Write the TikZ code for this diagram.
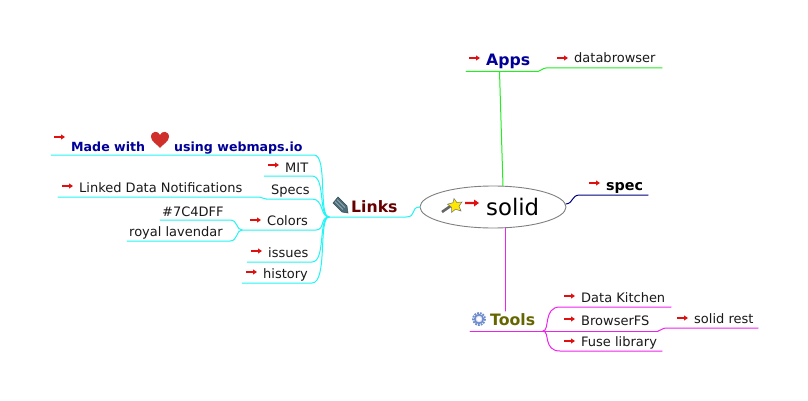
\documentclass[tikz,border=0pt]{standalone}
\usepackage{fontspec}
\setmainfont{DejaVu Sans}
\usetikzlibrary{shapes.geometric}
\definecolor{cyanline}{HTML}{22F5F5}
\definecolor{greenline}{HTML}{22EE22}
\definecolor{magline}{HTML}{EE22EE}
\definecolor{navyline}{HTML}{000080}
\definecolor{navytext}{HTML}{000099}
\definecolor{linkstext}{HTML}{660000}
\definecolor{toolstext}{HTML}{666600}
\definecolor{arrowred}{HTML}{E01010}
\definecolor{heartred}{HTML}{D0302C}
\definecolor{pencilc}{HTML}{4A6C78}
\definecolor{gearc}{HTML}{6C8CCC}
\tikzset{
  leaf/.style={anchor=base west,inner sep=0pt,font=\fontsize{13}{15}\selectfont,text=black!90},
  branch/.style={anchor=base west,inner sep=0pt,font=\fontsize{15.7}{18}\selectfont\bfseries},
  madetext/.style={anchor=base west,inner sep=0pt,font=\fontsize{12.6}{15}\selectfont\bfseries,text=navytext},
  root/.style={ellipse,draw=black!50,line width=0.9pt,minimum width=146pt,minimum height=42pt,inner sep=0pt},
  wire/.style={line width=1pt,line cap=round},
  redarr/.pic={\fill[arrowred] (0,-0.8) -- (7,-0.8) -- (7,-2.6) -- (11,0) -- (7,2.6) -- (7,0.8) -- (0,0.8) -- cycle;},
  bigarr/.pic={\fill[arrowred] (0,-1.1) -- (9,-1.1) -- (9,-3.5) -- (14,0) -- (9,3.5) -- (9,1.1) -- (0,1.1) -- cycle;},
  heart/.pic={\fill[heartred] (0,8) .. controls (-2.5,4.5) and (-9,1.5) .. (-9,-3) .. controls (-9,-9.5) and (-1.5,-9.5) .. (0,-5) .. controls (1.5,-9.5) and (9,-9.5) .. (9,-3) .. controls (9,1.5) and (2.5,4.5) .. (0,8) -- cycle;},
  pencil/.pic={\fill[pencilc,draw=pencilc!70!black,line width=0.5pt] (0,-3) -- (5,-9) -- (14,0) -- (15,7) -- (9,6) -- cycle;
    \draw[white!60!pencilc,line width=0.6pt] (2,-4.5) -- (10,3.5) (4,-6.5) -- (12,1.5);},
  wand/.pic={\draw[black!60,line width=2.6pt] (0,0) -- (10,-7);
    \fill[yellow!90!orange,draw=black!55,line width=0.5pt] (12,-13.5) -- (14.8,-9.5) -- (20,-10) -- (17,-5.8) -- (19,-1) -- (13.5,-2.8) -- (9.5,0.5) -- (9.5,-4.8) -- (5.5,-7.8) -- (11,-9.3) -- cycle;},
  gear/.pic={\draw[gearc,line width=1.8pt,dash pattern=on 1.8pt off 1.1pt] (0,0) circle (6);
    \draw[gearc,fill=blue!10,line width=1.6pt] (0,0) circle (4.3);
    \fill[white] (0,0) circle (2.1);}
}
\begin{document}
\begin{tikzpicture}[x=1pt,y=-1pt]
\useasboundingbox[fill=white] (0,0) rectangle (808,401);

% root
\node[root] (solid) at (493,207) {};
\node[anchor=base west,inner sep=0pt,font=\fontsize{22.8}{26}\selectfont,text=black] (solidtext) at (486,215) {solid};
\pic at (442,212) {wand};
\pic at (465,203) {bigarr};

% named coordinates for connector ends
\coordinate (rootL) at (420,207);
\coordinate (rootR) at (566,204);
\coordinate (rootT) at (503,186);
\coordinate (rootB) at (505,228);

% Apps
\node[branch,text=navytext] (apps) at (486,66) {Apps};
\pic at (469,58) {redarr};
\coordinate (appsL) at (466,71.5);
\coordinate (appsJ) at (538,71.5);
\coordinate (appsV) at (499.5,71.5);
\node[leaf] (databrowser) at (574,63) {databrowser};
\pic at (557,58) {redarr};
\coordinate (dbL) at (546,68);
\coordinate (dbR) at (662,68);
\draw[wire,greenline] (appsL) -- (appsJ) .. controls (541,71.5) and (542,68) .. (dbL) -- (dbR);
\draw[wire,greenline] (appsV) -- (rootT);

% spec
\node[anchor=base west,inner sep=0pt,font=\fontsize{14.3}{17}\selectfont\bfseries,text=black] (spec) at (606,190) {spec};
\pic at (589,183) {redarr};
\coordinate (specL) at (580,195);
\coordinate (specR) at (648,195);
\draw[wire,navyline] (rootR) .. controls (574,203) and (571,195) .. (specL) -- (specR);

% Tools
\node[branch,text=toolstext] (tools) at (490,325) {Tools};
\pic at (479,319) {gear};
\coordinate (toolsL) at (470,331);
\coordinate (toolsJ) at (543,331);
\coordinate (toolsV) at (505,311);
\draw[wire,magline] (rootB) -- (toolsV);
\draw[wire,magline] (toolsL) -- (toolsJ);
\node[leaf] (kitchen) at (581,302) {Data Kitchen};
\pic at (564,296) {redarr};
\coordinate (kitL) at (560,307);
\coordinate (kitR) at (671,307);
\draw[wire,magline] (toolsJ) .. controls (550,331) and (543,307) .. (kitL) -- (kitR);
\node[leaf] (browserfs) at (581,325) {BrowserFS};
\pic at (564,319) {redarr};
\coordinate (bfsM) at (658,331);
\draw[wire,magline] (toolsJ) -- (bfsM);
\node[leaf] (fuse) at (581,346) {Fuse library};
\pic at (564,341) {redarr};
\coordinate (fuseL) at (560,351);
\coordinate (fuseR) at (662,351);
\draw[wire,magline] (toolsJ) .. controls (550,331) and (543,351) .. (fuseL) -- (fuseR);
\node[leaf] (solidrest) at (694,323) {solid rest};
\pic at (677,318) {redarr};
\coordinate (restL) at (666,328);
\coordinate (restR) at (758,328);
\draw[wire,magline] (bfsM) .. controls (661,331) and (662,328) .. (restL) -- (restR);

% Links
\node[branch,text=linkstext] (links) at (351,212) {Links};
\pic at (333,206) {pencil};
\coordinate (linksJ) at (329,217);
\coordinate (linksR) at (406,217);
\draw[wire,cyanline] (linksJ) -- (linksR) .. controls (417,217) and (410,207) .. (rootL);

% Made with
\node[madetext] (made) at (71,151) {Made with};
\node[madetext] (webmaps) at (174,151) {using webmaps.io};
\pic at (160,140) {heart};
\pic at (54,137) {redarr};
\coordinate (madeL) at (51,155);
\coordinate (madeR) at (314,155);
\draw[wire,cyanline] (madeL) -- (madeR) .. controls (328,155) and (318,217) .. (linksJ);

% MIT
\node[leaf] (mit) at (285,172) {MIT};
\pic at (268,165) {redarr};
\coordinate (mitL) at (264,176);
\coordinate (mitR) at (312,176);
\draw[wire,cyanline] (mitL) -- (mitR) .. controls (326,176) and (318,217) .. (linksJ);

% Specs
\node[leaf] (specs) at (271,194) {Specs};
\coordinate (specsL) at (266,199);
\coordinate (specsR) at (312,199);
\draw[wire,cyanline] (specsL) -- (specsR) .. controls (324,199) and (320,217) .. (linksJ);
\node[leaf] (ldn) at (79,192) {Linked Data Notifications};
\pic at (62,186) {redarr};
\coordinate (ldnL) at (58,197);
\coordinate (ldnR) at (259,197);
\draw[wire,cyanline] (ldnL) -- (ldnR) .. controls (262,197) and (263,199) .. (specsL);

% Colors
\node[leaf] (colors) at (267,225) {Colors};
\pic at (250,220) {redarr};
\coordinate (colJ) at (242,230);
\coordinate (colR) at (316,230);
\draw[wire,cyanline] (colJ) -- (colR) .. controls (325,230) and (320,217) .. (linksJ);
\node[leaf] (hex) at (162,216) {\#7C4DFF};
\coordinate (hexL) at (160,220);
\coordinate (hexR) at (230,220);
\draw[wire,cyanline] (hexL) -- (hexR) .. controls (238,220) and (236,230) .. (colJ);
\node[leaf] (royal) at (129,236) {royal lavendar};
\coordinate (royL) at (127,241);
\coordinate (royR) at (230,241);
\draw[wire,cyanline] (royL) -- (royR) .. controls (238,241) and (236,230) .. (colJ);

% issues
\node[leaf] (issues) at (268,257) {issues};
\pic at (251,251) {redarr};
\coordinate (issL) at (247,262);
\coordinate (issR) at (312,262);
\draw[wire,cyanline] (issL) -- (issR) .. controls (326,262) and (318,217) .. (linksJ);

% history
\node[leaf] (history) at (263,278) {history};
\pic at (246,272) {redarr};
\coordinate (hisL) at (242,283);
\coordinate (hisR) at (312,283);
\draw[wire,cyanline] (hisL) -- (hisR) .. controls (328,283) and (318,217) .. (linksJ);
\end{tikzpicture}
\end{document}
